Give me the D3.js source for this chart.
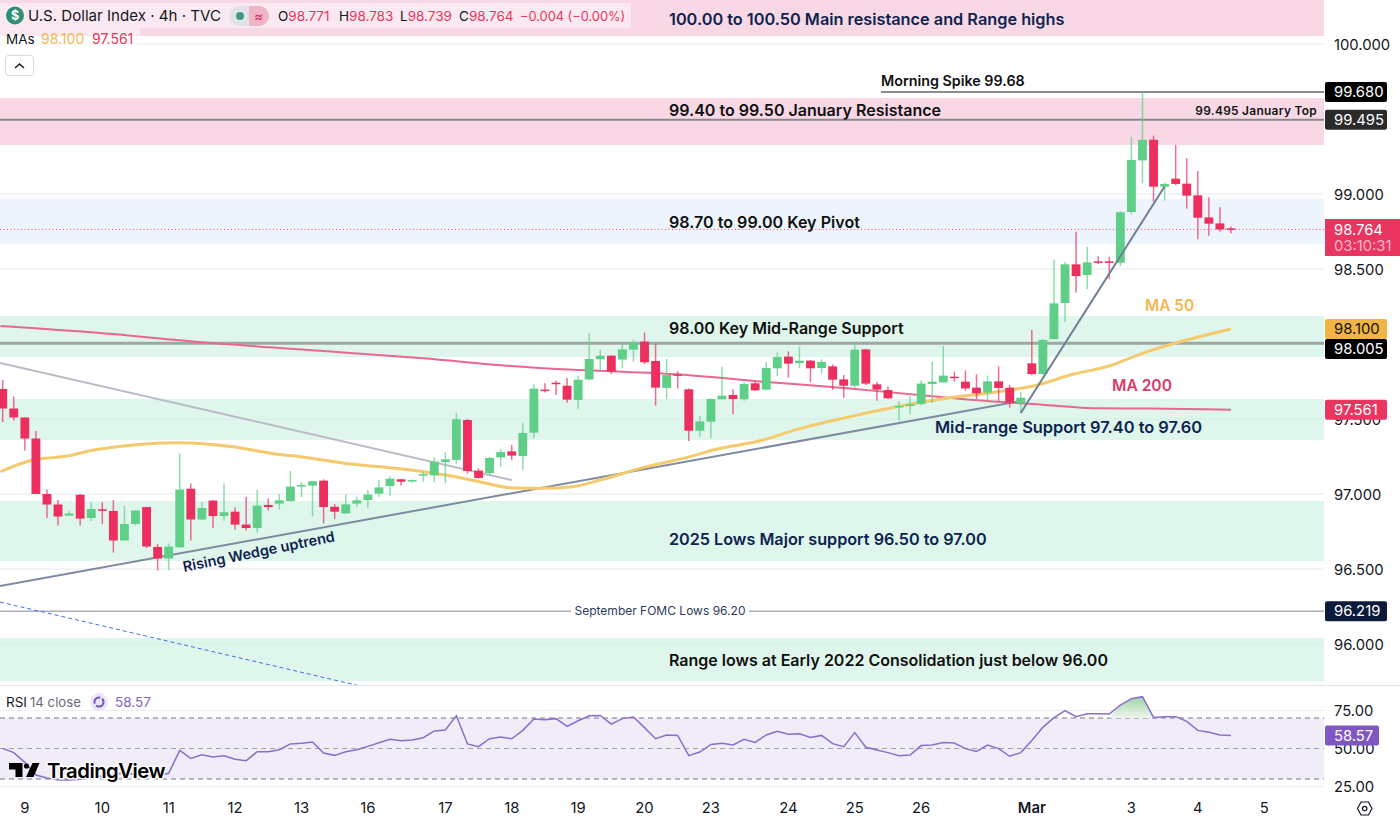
<!DOCTYPE html>
<html>
<head>
<meta charset="utf-8">
<script src="https://cdn.jsdelivr.net/npm/d3@7"></script>
<style>
  html, body { margin: 0; padding: 0; background: #fff; }
  svg { display: block; font-family: Inter, "Noto Sans", sans-serif; }
</style>
</head>
<body>
<div id="container"></div>
<script>
// candles, one entry per 4h bar
let opens = [97.70,97.57,97.51,97.37,97.00,96.93,96.856,96.995,96.84,96.898,
  96.887,96.69,96.80,96.913,96.647,96.57,96.644,97.035,96.83,96.956,
  96.853,96.882,96.796,96.773,96.927,96.936,96.953,97.05,97.056,97.089,
  96.915,96.871,96.936,96.96,97.002,97.053,97.098,97.084,97.124,97.124,
  97.213,97.227,97.493,97.156,97.14,97.244,97.284,97.253,97.409,97.696,
  97.742,97.722,97.627,97.764,97.898,97.922,97.896,97.962,98.016,97.887,
  97.707,97.798,97.698,97.422,97.482,97.631,97.66,97.631,97.738,97.696,
  97.838,97.916,97.873,97.889,97.84,97.851,97.764,97.722,97.964,97.731,
  97.693,97.582,97.587,97.6,97.733,97.744,97.782,97.749,97.709,97.676,
  97.751,97.709,97.604,97.871,97.8,98.033,98.273,98.531,98.46,98.551,
  98.551,98.542,98.88,99.224,99.362,99.049,99.102,99.069,98.991,98.844,
  98.804,98.771];
let highs = [97.76,97.65,97.51,97.42,97.03,96.96,96.89,97.00,96.945,96.945,
  96.96,96.92,96.89,96.913,96.667,96.67,97.27,97.07,96.947,96.96,
  97.07,96.91,96.982,97.027,96.97,97.0,97.153,97.08,97.087,97.098,
  96.933,96.998,96.982,97.027,97.093,97.12,97.10,97.096,97.149,97.244,
  97.278,97.542,97.50,97.171,97.247,97.30,97.327,97.476,97.731,97.738,
  97.756,97.773,97.789,98.071,97.96,97.924,97.999,98.027,98.076,97.999,
  97.9,97.818,97.704,97.52,97.638,97.849,97.698,97.744,97.749,97.878,
  97.944,97.951,97.982,97.893,97.898,97.864,97.793,97.996,97.969,97.749,
  97.716,97.616,97.653,97.758,97.882,97.987,97.816,97.824,97.798,97.789,
  97.851,97.727,97.682,98.093,98.031,98.564,98.549,98.749,98.649,98.587,
  98.582,98.887,99.382,99.678,99.389,99.076,99.327,99.238,99.153,98.978,
  98.911,98.783];
let lows = [97.48,97.49,97.29,97.00,96.84,96.79,96.856,96.79,96.82,96.80,
  96.61,96.69,96.79,96.64,96.49,96.49,96.644,96.69,96.827,96.773,
  96.822,96.764,96.756,96.744,96.89,96.898,96.949,96.98,96.85,96.804,
  96.833,96.867,96.916,96.905,96.982,96.989,97.056,97.076,97.082,97.078,
  97.071,97.198,97.136,97.102,97.12,97.182,97.227,97.16,97.371,97.676,
  97.66,97.609,97.569,97.756,97.822,97.798,97.842,97.882,97.867,97.589,
  97.631,97.704,97.353,97.382,97.371,97.631,97.531,97.622,97.687,97.689,
  97.787,97.776,97.838,97.744,97.804,97.693,97.642,97.704,97.727,97.622,
  97.633,97.489,97.533,97.591,97.609,97.742,97.749,97.689,97.633,97.613,
  97.616,97.576,97.542,97.791,97.793,98.031,98.149,98.344,98.367,98.533,
  98.433,98.52,98.864,99.071,98.949,98.956,99.06,98.902,98.698,98.722,
  98.749,98.739];
let closes = [97.57,97.51,97.37,97.00,96.93,96.85,96.87,96.836,96.90,96.89,
  96.69,96.80,96.89,96.65,96.57,96.65,97.03,96.83,96.907,96.853,
  96.878,96.796,96.773,96.922,96.913,96.958,97.049,97.06,97.085,96.913,
  96.882,96.931,96.958,96.996,97.044,97.102,97.082,97.093,97.133,97.216,
  97.231,97.498,97.153,97.107,97.24,97.28,97.256,97.407,97.702,97.689,
  97.736,97.629,97.762,97.9,97.922,97.816,97.964,98.009,97.878,97.709,
  97.793,97.789,97.422,97.484,97.633,97.655,97.633,97.733,97.691,97.84,
  97.913,97.869,97.889,97.838,97.88,97.762,97.722,97.962,97.736,97.696,
  97.638,97.587,97.598,97.736,97.749,97.789,97.778,97.704,97.671,97.751,
  97.707,97.609,97.642,97.8,98.027,98.271,98.531,98.453,98.544,98.544,
  98.544,98.878,99.227,99.362,99.049,99.067,99.067,98.989,98.842,98.802,
  98.764,98.764];

// moving averages, read at a few bars along each line
let ma50Bars = [-0.2,2.7,5.8,8.2,11.8,15.8,20.8,24.8,26.9,31.4,34.4,40.9,43.1,45.8,48.6,51.5,54,57.6,62.1,64.2,68.7,71.8,76.3,80.8,85.3,89.9,93.5,96.7,100,102.8,106.4,111];
let ma50Vals = [97.149,97.227,97.253,97.293,97.327,97.342,97.315,97.265,97.249,97.2,97.18,97.115,97.082,97.042,97.038,97.049,97.093,97.171,97.249,97.293,97.36,97.431,97.511,97.582,97.638,97.682,97.727,97.798,97.853,97.933,98.015,98.1];
let ma200Bars = [-0.2,8.8,17.8,30.5,38,45.6,50.1,54.6,61.2,68.7,76.3,83.8,89.9,93.1,99.2,103.7,111];
let ma200Vals = [98.12,98.073,98.013,97.945,97.905,97.855,97.833,97.82,97.797,97.749,97.705,97.653,97.615,97.6,97.571,97.57,97.561];

// rsi, one entry per bar
let rsiVals = [50.1,47.3,40.9,32.6,30.6,29.3,29.3,29.8,31,32,33,34,33,32,32.5,33.7,
  48.8,43.5,45.9,44.4,45.3,42.9,42,47.9,47.9,49.2,53,53.4,54.3,47,45.5,47.9,49.2,51.4,53.8,56,
  55.1,55.6,57.1,61.5,62.1,71.5,53,51.2,56.4,57.5,56.4,61.9,69.3,68.9,69.6,64.5,68.2,71.5,71.7,
  66,69.6,70.7,63.7,56.4,58.9,58.6,45.3,47.7,52.7,53.4,52.3,56,54,58.9,61.3,59.3,59.7,57.3,58.6,
  53.2,51.2,60.4,50.8,49,47.3,45.3,45.7,51.9,52.3,54,53.6,49.9,48.1,52.3,49.9,44.9,47.3,55.3,
  63.9,70.2,74.8,70.9,72.8,72.8,72.6,78.5,82.7,84,70.4,70.9,70.9,67.8,61.9,60.6,58.9,58.57];

// zones on the price pane
let zoneTops = [100.55,99.64,98.967,98.187,97.633,96.953,96.04];
let zoneBottoms = [100.053,99.327,98.667,97.913,97.36,96.553,95.753];
let zoneColors = ["#f8d8e5","#f8d8e5","#edf4fb","#dff6ec","#dff6ec","#dff6ec","#dff6ec"];
let zoneLabels = ["100.00 to 100.50 Main resistance and Range highs","99.40 to 99.50 January Resistance","98.70 to 99.00 Key Pivot","98.00 Key Mid-Range Support","","2025 Lows Major support 96.50 to 97.00","Range lows at Early 2022 Consolidation just below 96.00"];
let zoneLabelPrices = [100.167,99.56,98.81,98.107,0,96.7,95.893];
let zoneLabelSizes = [16.3,16.05,16.1,16,0,16.2,16];
let zoneLabelColors = ["#0d2350","#111","#111","#111","","#0d2350","#111"];

// axis ticks
let priceTicks = [100,99,98.5,97.5,97,96.5,96];
let rsiTicks = [75,50,25];
let dayTicks = [2,9,15,21,27,33,40,46,52,58,64,71,77,83,93,102,108,114];
let dayLabels = ["9","10","11","12","13","16","17","18","19","20","23","24","25","26","Mar","3","4","5"];

// price tags on the right
let tagPrices = [99.68,99.495,98.1,98.005,97.561,96.219];
let tagTexts = ["99.680","99.495","98.100","98.005","97.561","96.219"];
let tagFills = ["#000","#2a2a2a","#f2b544","#000","#ea3560","#0c1a3c"];
let tagTextFills = ["#fff","#fff","#111","#fff","#fff","#fff"];

let w = 1400;
let h = 822;
let plotRight = 1324;
let paneBottom = 685;
let labelSize = 14.8;

let viz = d3.select("#container")
  .append("svg")
    .attr("width", w)
    .attr("height", h)
;

let xScale = d3.scaleLinear().domain([0, 111]).range([2.7, 1231]);
let yScale = d3.scaleLinear().domain([100, 96]).range([44, 644]);
let rsiScale = d3.scaleLinear().domain([75, 25]).range([710.4, 786.6]);

let defs = viz.append("defs");
defs.append("clipPath").attr("id", "paneClip").append("rect")
  .attr("x", 0).attr("y", 0).attr("width", plotRight).attr("height", paneBottom);
let grad = defs.append("linearGradient").attr("id", "obFill")
  .attr("x1", 0).attr("x2", 0).attr("y1", 0).attr("y2", 1);
grad.append("stop").attr("offset", "0%").attr("stop-color", "#9ed3a4");
grad.append("stop").attr("offset", "100%").attr("stop-color", "#eef7ee");

let pane = viz.append("g").attr("clip-path", "url(#paneClip)");

// grid lines
pane.selectAll(".grid").data(priceTicks).enter().append("line")
  .attr("class", "grid")
  .attr("x1", 0).attr("x2", plotRight)
  .attr("y1", function(d){ return yScale(d) }).attr("y2", function(d){ return yScale(d) })
  .attr("stroke", "#eff1f4")
;

// zones
pane.selectAll(".zone").data(zoneTops).enter().append("rect")
  .attr("class", "zone")
  .attr("x", 0).attr("width", plotRight)
  .attr("y", function(d){ return yScale(d) })
  .attr("height", function(d, i){ return yScale(zoneBottoms[i]) - yScale(d) })
  .attr("fill", function(d, i){ return zoneColors[i] })
;
pane.selectAll(".grid2").data(priceTicks).enter().append("line")
  .attr("x1", 0).attr("x2", plotRight)
  .attr("y1", function(d){ return yScale(d) }).attr("y2", function(d){ return yScale(d) })
  .attr("stroke", "#5a6a70").attr("stroke-opacity", 0.06)
;

// horizontal levels
function hLine(price, x1, color, width){
  pane.append("line")
    .attr("x1", x1).attr("x2", plotRight)
    .attr("y1", yScale(price)).attr("y2", yScale(price))
    .attr("stroke", color).attr("stroke-width", width)
  ;
}
hLine(99.68, 881, "#8c8c8c", 2);
hLine(99.495, 0, "#8a8a8c", 2);
hLine(98.005, 0, "#a0a6a2", 3);
hLine(96.219, 0, "#a9adbb", 1.5);
pane.append("line")
  .attr("x1", 0).attr("x2", plotRight)
  .attr("y1", yScale(98.764)).attr("y2", yScale(98.764))
  .attr("stroke", "#e8466f").attr("stroke-width", 1).attr("stroke-dasharray", "1,2.5")
;

// trendlines as [bar, price] end points
let fallingLine = [[-0.24, 97.874], [46, 97.093]];
let wedgeLine = [[-0.24, 96.387], [92, 97.62]];
let steepLine = [[92, 97.54], [105, 99.05]];
let forecastLine = [[-0.24, 96.28], [32.3, 95.72]];
let lineMaker = d3.line()
  .x(function(d){ return xScale(d[0]) })
  .y(function(d){ return yScale(d[1]) })
;
pane.append("path").attr("d", lineMaker(fallingLine)).attr("fill", "none")
  .attr("stroke", "#b9bbc6").attr("stroke-width", 2);
pane.append("path").attr("d", lineMaker(forecastLine)).attr("fill", "none")
  .attr("stroke", "#3f6fe6").attr("stroke-width", 1).attr("stroke-dasharray", "4,3");

// moving averages
let maMaker = d3.line()
  .x(function(d){ return xScale(d[0]) })
  .y(function(d){ return yScale(d[1]) })
  .curve(d3.curveMonotoneX)
;
pane.append("path").attr("d", maMaker(d3.zip(ma200Bars, ma200Vals))).attr("fill", "none")
  .attr("stroke", "#e9688f").attr("stroke-width", 2);
pane.append("path").attr("d", lineMaker(wedgeLine)).attr("fill", "none")
  .attr("stroke", "#7f8ba0").attr("stroke-width", 2);
pane.append("path").attr("d", maMaker(d3.zip(ma50Bars, ma50Vals))).attr("fill", "none")
  .attr("stroke", "#f5ca6c").attr("stroke-width", 3);

// candles
let green = "#5fcf88";
let red = "#ec2f5e";
let bodyW = xScale(0.8) - xScale(0);
let candles = pane.selectAll(".candle").data(opens).enter().append("g").attr("class", "candle");
candles.append("line")
  .attr("x1", function(d, i){ return xScale(i) }).attr("x2", function(d, i){ return xScale(i) })
  .attr("y1", function(d, i){ return yScale(highs[i]) }).attr("y2", function(d, i){ return yScale(lows[i]) })
  .attr("stroke", function(d, i){ return closes[i] > d ? green : red })
  .attr("stroke-width", 1.5)
  .attr("stroke-opacity", 0.7)
;
candles.append("rect")
  .attr("x", function(d, i){ return xScale(i) - bodyW / 2 })
  .attr("width", bodyW)
  .attr("y", function(d, i){ return yScale(Math.max(d, closes[i])) })
  .attr("height", function(d, i){ return Math.max(1.5, Math.abs(yScale(d) - yScale(closes[i]))) })
  .attr("fill", function(d, i){ return closes[i] > d ? green : red })
;

pane.append("path").attr("d", lineMaker(steepLine)).attr("fill", "none")
  .attr("stroke", "#6f7f96").attr("stroke-width", 2);

// zone labels
pane.selectAll(".zoneLabel").data(zoneLabels).enter().append("text")
  .attr("class", "zoneLabel")
  .attr("x", 669)
  .attr("y", function(d, i){ return yScale(zoneLabelPrices[i]) })
  .attr("dy", "0.35em")
  .attr("font-size", function(d, i){ return zoneLabelSizes[i] }).attr("font-weight", 600)
  .attr("fill", function(d, i){ return zoneLabelColors[i] })
  .text(function(d){ return d })
;

function note(txt, x, price, size, color, anchor){
  return pane.append("text")
    .attr("x", x).attr("y", yScale(price)).attr("dy", "0.35em")
    .attr("font-size", size).attr("font-weight", 600)
    .attr("fill", color).attr("text-anchor", anchor || "start")
    .text(txt)
  ;
}
note("Morning Spike 99.68", 881, 99.753, 14.3, "#111");
note("99.495 January Top", 1317, 99.553, 11.9, "#111", "end").attr("letter-spacing", 0.3);
note("Mid-range Support 97.40 to 97.60", 935, 97.447, 16.4, "#0d2350");
note("MA 50", 1145, 98.253, 15.4, "#f2b84f");
note("MA 200", 1112, 97.72, 15.6, "#dd3a68");
pane.append("text")
  .attr("transform", "translate(184,572) rotate(-11.5)")
  .attr("font-size", 14.5).attr("font-weight", 600).attr("fill", "#0d2350")
  .text("Rising Wedge uptrend")
;

// level label with a gap in the line
pane.append("rect").attr("x", 571).attr("y", yScale(96.219) - 4).attr("width", 178).attr("height", 8).attr("fill", "#fff");
note("September FOMC Lows 96.20", 660, 96.219, 12, "#2c3a5e", "middle").attr("font-weight", 400);

// pane border
viz.append("line").attr("x1", 0).attr("x2", w).attr("y1", paneBottom + 0.5).attr("y2", paneBottom + 0.5)
  .attr("stroke", "#e3e5ea");

// rsi pane
viz.append("rect")
  .attr("x", 0).attr("width", plotRight)
  .attr("y", rsiScale(70)).attr("height", rsiScale(30) - rsiScale(70))
  .attr("fill", "#f0ecf8")
;
viz.selectAll(".rsiGrid").data(rsiTicks).enter().append("line")
  .attr("x1", 0).attr("x2", plotRight)
  .attr("y1", function(d){ return rsiScale(d) }).attr("y2", function(d){ return rsiScale(d) })
  .attr("stroke", "#eceef2")
;
viz.selectAll(".rsiLevel").data([70, 50, 30]).enter().append("line")
  .attr("x1", 0).attr("x2", plotRight)
  .attr("y1", function(d){ return rsiScale(d) }).attr("y2", function(d){ return rsiScale(d) })
  .attr("stroke", "#a3a3a8")
  .attr("stroke-width", function(d){ return d == 50 ? 1 : 1.5 })
  .attr("stroke-dasharray", "5,4")
;
let rsiLine = d3.line()
  .x(function(d, i){ return xScale(i) })
  .y(function(d){ return rsiScale(d) })
;
// overbought area, only the bars above 70
let obBars = [100, 101, 102, 103, 104];
let obArea = d3.area()
  .x(function(d){ return xScale(d) })
  .y0(rsiScale(70))
  .y1(function(d){ return rsiScale(d == 100 ? 70 : rsiVals[d]) })
;
viz.append("path").attr("d", obArea(obBars)).attr("fill", "url(#obFill)");
viz.append("path").attr("d", rsiLine(rsiVals)).attr("fill", "none")
  .attr("stroke", "#8a6fca").attr("stroke-width", 1.5);

// right axis
let yAxis = d3.axisRight(yScale).tickValues(priceTicks).tickFormat(d3.format(".3f")).tickSize(0).tickPadding(0);
let yAxisGroup = viz.append("g").attr("class", "yaxisgroup")
  .attr("transform", "translate(1334,0.5)").call(yAxis);
let rsiAxis = d3.axisRight(rsiScale).tickValues(rsiTicks).tickFormat(d3.format(".2f")).tickSize(0).tickPadding(0);
let rsiAxisGroup = viz.append("g").attr("class", "rsiaxisgroup")
  .attr("transform", "translate(1334,0.5)").call(rsiAxis);

// bottom axis
let xAxis = d3.axisBottom(xScale).tickValues(dayTicks)
  .tickFormat(function(d, i){ return dayLabels[i] }).tickSize(0);
let xAxisGroup = viz.append("g").attr("class", "xaxisgroup")
  .attr("transform", "translate(-0.5,799)").call(xAxis);

viz.selectAll(".yaxisgroup path, .rsiaxisgroup path, .xaxisgroup path").remove();
viz.selectAll(".yaxisgroup text, .rsiaxisgroup text, .xaxisgroup text")
  .attr("font-family", "Inter").attr("font-size", labelSize).attr("fill", "#131722")
;
viz.selectAll(".xaxisgroup text").filter(function(d){ return d == 93 }).attr("font-weight", 600);

// price tags, a tag that would overlap the one above slides down below it
let tagBottom = 0;
let tagCentres = tagPrices.map(function(d){
  let c = Math.max(yScale(d), tagBottom + 10);
  tagBottom = c + 10;
  return c;
});
let tags = viz.selectAll(".tag").data(tagPrices).enter().append("g").attr("class", "tag");
tags.append("rect")
  .attr("x", 1325).attr("width", 62).attr("height", 20).attr("rx", 2)
  .attr("y", function(d, i){ return tagCentres[i] - 10 })
  .attr("fill", function(d, i){ return tagFills[i] })
;
tags.append("text")
  .attr("x", 1334).attr("y", function(d, i){ return tagCentres[i] }).attr("dy", "0.36em")
  .attr("font-size", labelSize)
  .attr("fill", function(d, i){ return tagTextFills[i] })
  .text(function(d, i){ return tagTexts[i] })
;
viz.append("rect").attr("x", 1325).attr("y", 219).attr("width", 75).attr("height", 37).attr("fill", "#ea3560");
viz.append("text").attr("x", 1334).attr("y", 234.5).attr("font-size", labelSize).attr("fill", "#fff").text("98.764");
viz.append("text").attr("x", 1334).attr("y", 251).attr("font-size", labelSize).attr("fill", "#f9b6c8").text("03:10:31");
viz.append("rect").attr("x", 1325).attr("y", rsiScale(58.57) - 10).attr("width", 54).attr("height", 20).attr("rx", 2).attr("fill", "#7e57c2");
viz.append("text").attr("x", 1334).attr("y", rsiScale(58.57)).attr("dy", "0.36em").attr("font-size", labelSize).attr("fill", "#fff").text("58.57");

// header, drawn over the first zone
let head = viz.append("g");
head.append("rect").attr("x", 0).attr("y", 3).attr("width", 631).attr("height", 25).attr("fill", "#fff").attr("fill-opacity", 0.45);
head.append("rect").attr("x", 0).attr("y", 28).attr("width", 140).attr("height", 19).attr("fill", "#fff").attr("fill-opacity", 0.45);
head.append("circle").attr("cx", 15).attr("cy", 15.5).attr("r", 9).attr("fill", "#2f8f74");
head.append("text").attr("x", 15).attr("y", 20).attr("text-anchor", "middle").attr("font-size", 12.5).attr("font-weight", 700).attr("fill", "#fff").text("$");
head.append("text").attr("x", 28).attr("y", 21).attr("font-size", 15.1).attr("fill", "#131722").text("U.S. Dollar Index · 4h · TVC");
head.append("rect").attr("x", 229).attr("y", 6).attr("width", 40).attr("height", 20).attr("rx", 10).attr("fill", "#e2e3e6");
head.append("path").attr("d", "M249,6h10a10,10 0 0 1 0,20h-10z").attr("fill", "#efb4c8");
head.append("circle").attr("cx", 240).attr("cy", 16).attr("r", 4).attr("fill", "#3f9c82");
head.append("text").attr("x", 258.5).attr("y", 20.5).attr("text-anchor", "middle").attr("font-size", 13).attr("font-weight", 600).attr("fill", "#d8365f").text("≈");

// ohlc readout
let ohlcNames = ["O", "H", "L", "C"];
let ohlcValues = ["98.771", "98.783", "98.739", "98.764"];
let ohlcX = [278, 339, 400, 459];
ohlcNames.forEach(function(n, i){
  let t = head.append("text").attr("x", ohlcX[i]).attr("y", 21).attr("font-size", 13.5).attr("fill", "#131722").text(n);
  t.append("tspan").attr("fill", "#ea3560").text(ohlcValues[i]);
});
head.append("text").attr("x", 520).attr("y", 21).attr("font-size", 12.8).attr("fill", "#ea3560").text("−0.004 (−0.00%)");
head.append("text").attr("x", 6).attr("y", 44).attr("font-size", 13.5).attr("fill", "#131722").text("MAs");
head.append("text").attr("x", 41).attr("y", 44).attr("font-size", 14).attr("fill", "#f2b84f").text("98.100");
head.append("text").attr("x", 92).attr("y", 44).attr("font-size", 14).attr("fill", "#ea3560").text("97.561");
head.append("rect").attr("x", 5.5).attr("y", 55.5).attr("width", 28).attr("height", 20).attr("rx", 3).attr("fill", "#fff").attr("stroke", "#d8dade");
head.append("path").attr("d", "M15,68l4.5,-4l4.5,4").attr("fill", "none").attr("stroke", "#131722").attr("stroke-width", 1.5);

// rsi legend
head.append("text").attr("x", 6).attr("y", 707).attr("font-size", 13.5).attr("fill", "#131722").text("RSI");
head.append("text").attr("x", 30).attr("y", 707).attr("font-size", 13.2).attr("fill", "#6a6d78").text("14 close");
head.append("circle").attr("cx", 99).attr("cy", 702).attr("r", 9).attr("fill", "#ece7f8");
head.append("circle").attr("cx", 99).attr("cy", 702).attr("r", 4.5).attr("fill", "none").attr("stroke", "#6d52c8").attr("stroke-width", 2).attr("stroke-dasharray", "10,2");
head.append("text").attr("x", 115).attr("y", 707).attr("font-size", 13.5).attr("fill", "#7e63c6").text("58.57");

// logo
let logo = viz.append("g");
logo.append("path").attr("d", "M9,763h13.5v14h-7v-7.5h-6.5z M32.5,763h7l-6,14h-7.5z").attr("fill", "#000");
logo.append("circle").attr("cx", 26.5).attr("cy", 766).attr("r", 2.6).attr("fill", "#000");
logo.append("text").attr("x", 47).attr("y", 778)
  .attr("font-size", 20.3).attr("font-weight", 600).attr("letter-spacing", -0.5)
  .attr("fill", "#000").attr("stroke", "#fff").attr("stroke-width", 3).attr("stroke-opacity", 0.9).attr("paint-order", "stroke")
  .text("TradingView");

// settings icon
viz.append("path").attr("d", "M1357.5,808.5l3.5,-6.5h7.5l3.5,6.5l-3.5,6.5h-7.5z").attr("fill", "none").attr("stroke", "#131722").attr("stroke-width", 1.2);
viz.append("circle").attr("cx", 1364.7).attr("cy", 808.5).attr("r", 2.2).attr("fill", "none").attr("stroke", "#131722").attr("stroke-width", 1.2);
</script>
</body>
</html>
